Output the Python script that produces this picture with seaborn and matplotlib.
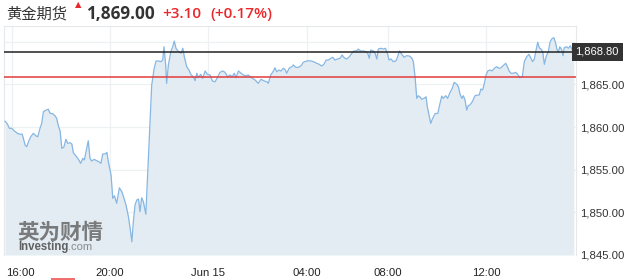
import matplotlib
matplotlib.use("Agg")
import matplotlib.pyplot as plt
import matplotlib.transforms as mtransforms
from matplotlib.patches import Rectangle
import seaborn as sns
import pandas as pd

# ---- data (hours after 16:00 on the chart's session scale, price) ----
hours = [-0.29, -0.19, -0.11, -0.01, 0.08, 0.22, 0.33, 0.41, 0.46, 0.53, 0.60, 0.67, 0.76, 0.87, 0.98, 1.05,
         1.14, 1.21, 1.28, 1.39, 1.48, 1.55, 1.66, 1.76, 1.82, 1.89, 1.96, 2.03, 2.11, 2.20, 2.27, 2.37,
         2.44, 2.50, 2.61, 2.71, 2.80, 2.89, 2.95, 3.02, 3.11, 3.18, 3.25, 3.35, 3.46, 3.56, 3.63, 3.70,
         3.80, 3.87, 3.93, 4.00, 4.04, 4.11, 4.18, 4.27, 4.38, 4.48, 4.57, 4.65, 4.75, 4.82, 4.89, 4.95,
         5.02, 5.09, 5.16, 5.22, 5.29, 5.36, 5.46, 5.52, 5.60, 5.70, 5.80, 5.88, 5.97, 6.08, 6.15, 6.20,
         6.27, 6.31, 6.38, 6.48, 6.56, 6.62, 6.69, 6.79, 6.90, 6.97, 7.03, 7.13, 7.22, 7.31, 7.40, 7.47,
         7.54, 7.60, 7.70, 7.78, 7.88, 7.97, 8.08, 8.18, 8.29, 8.40, 8.49, 8.60, 8.69, 8.80, 8.90, 8.99,
         9.07, 9.14, 9.24, 9.35, 9.44, 9.55, 9.64, 9.78, 9.92, 10.05, 10.16, 10.30, 10.40, 10.46, 10.56,
         10.67, 10.73, 10.80, 10.90, 10.98, 11.07, 11.14, 11.21, 11.31, 11.42, 11.48, 11.58, 11.69, 11.80,
         11.89, 12.03, 12.16, 12.30, 12.44, 12.54, 12.64, 12.73, 12.82, 12.91, 13.01, 13.09, 13.18, 13.28,
         13.39, 13.47, 13.56, 13.66, 13.77, 13.87, 13.96, 14.07, 14.13, 14.23, 14.34, 14.45, 14.52, 14.58,
         14.64, 14.75, 14.82, 14.89, 14.95, 15.05, 15.16, 15.24, 15.32, 15.39, 15.47, 15.56, 15.67, 15.74,
         15.81, 15.91, 16.00, 16.11, 16.22, 16.31, 16.38, 16.45, 16.52, 16.58, 16.65, 16.73, 16.82, 16.90,
         16.95, 17.03, 17.09, 17.17, 17.27, 17.38, 17.47, 17.54, 17.60, 17.70, 17.78, 17.88, 17.97, 18.05,
         18.15, 18.22, 18.29, 18.36, 18.42, 18.49, 18.56, 18.62, 18.69, 18.79, 18.90, 19.01, 19.07, 19.14,
         19.21, 19.28, 19.35, 19.42, 19.51, 19.60, 19.69, 19.78, 19.88, 19.96, 20.05, 20.15, 20.22, 20.29,
         20.37, 20.46, 20.56, 20.64, 20.73, 20.83, 20.91, 21.01, 21.10, 21.18, 21.25, 21.32, 21.39, 21.46,
         21.52, 21.59, 21.66, 21.73, 21.80, 21.89, 21.96, 22.03, 22.12, 22.19, 22.24, 22.30, 22.36, 22.44,
         22.49, 22.54, 22.64, 22.71, 22.79, 22.87, 22.93]
price = [1860.70, 1860.35, 1859.85, 1859.85, 1859.57, 1859.26, 1859.14, 1859.18, 1858.68, 1857.89, 1857.69,
         1858.28, 1858.86, 1859.26, 1858.95, 1858.86, 1859.85, 1860.43, 1861.79, 1861.99, 1862.08, 1861.61,
         1861.56, 1861.29, 1861.02, 1860.12, 1859.57, 1857.50, 1857.62, 1858.56, 1858.09, 1858.16, 1858.01,
         1856.99, 1856.60, 1856.21, 1855.74, 1856.33, 1856.13, 1857.10, 1858.39, 1856.33, 1856.01, 1856.21,
         1856.05, 1855.90, 1855.74, 1856.84, 1856.84, 1857.03, 1855.93, 1854.96, 1854.37, 1851.64, 1851.95,
         1851.06, 1852.88, 1852.42, 1851.64, 1850.86, 1849.48, 1848.12, 1846.55, 1848.90, 1850.86, 1851.44,
         1851.56, 1850.07, 1851.71, 1851.24, 1849.77, 1853.59, 1858.68, 1864.92, 1866.88, 1867.74, 1867.74,
         1867.66, 1867.85, 1869.41, 1867.27, 1865.12, 1867.27, 1868.83, 1869.41, 1870.08, 1869.23, 1868.83,
         1868.64, 1869.23, 1868.24, 1867.07, 1866.68, 1866.10, 1865.90, 1865.43, 1866.30, 1865.78, 1866.18,
         1865.71, 1866.57, 1866.18, 1866.10, 1865.39, 1865.31, 1865.90, 1866.41, 1866.57, 1866.41, 1865.90,
         1866.10, 1865.90, 1866.30, 1865.78, 1866.57, 1866.30, 1866.10, 1866.01, 1866.10, 1865.78, 1865.51,
         1865.12, 1865.59, 1865.39, 1865.31, 1865.12, 1866.10, 1866.57, 1866.95, 1866.48, 1866.68, 1866.57,
         1866.88, 1866.76, 1866.30, 1866.88, 1867.07, 1867.27, 1867.00, 1867.00, 1867.19, 1867.59, 1867.74,
         1867.77, 1867.66, 1867.47, 1867.35, 1867.15, 1867.35, 1867.85, 1867.85, 1868.05, 1868.17, 1867.85,
         1867.97, 1868.05, 1868.44, 1868.12, 1867.97, 1868.24, 1868.64, 1868.91, 1868.94, 1869.14, 1868.91,
         1868.91, 1868.83, 1868.64, 1868.05, 1869.03, 1868.91, 1868.64, 1867.97, 1869.14, 1869.23, 1869.14,
         1869.23, 1868.64, 1867.85, 1867.97, 1867.66, 1867.74, 1868.24, 1868.91, 1868.52, 1868.17, 1868.36,
         1868.32, 1868.12, 1867.66, 1865.90, 1863.36, 1863.67, 1863.52, 1863.25, 1863.36, 1863.55, 1862.38,
         1861.29, 1860.43, 1861.02, 1861.58, 1861.60, 1862.78, 1863.63, 1863.36, 1863.67, 1863.36, 1864.07,
         1864.54, 1865.24, 1865.01, 1864.72, 1863.83, 1863.36, 1863.67, 1863.17, 1861.99, 1862.50, 1862.58,
         1862.97, 1863.67, 1863.75, 1863.75, 1864.46, 1864.34, 1865.12, 1866.10, 1866.57, 1866.68, 1866.57,
         1866.88, 1867.07, 1866.88, 1866.95, 1867.19, 1867.47, 1867.07, 1866.57, 1866.30, 1866.30, 1866.41,
         1866.18, 1865.78, 1865.90, 1867.66, 1868.24, 1868.52, 1868.05, 1867.66, 1867.97, 1869.03, 1869.93,
         1869.30, 1869.14, 1868.83, 1867.35, 1868.24, 1868.83, 1869.93, 1870.32, 1870.47, 1869.81, 1869.14,
         1868.76, 1869.41, 1869.03, 1868.36, 1869.30, 1869.41, 1869.23, 1869.53, 1869.03, 1868.80]

tick_pos = [0.0, 4.0, 8.0, 12.04, 15.35, 19.35]
tick_labels = ["16:00", "20:00", "Jun 15", "04:00", "08:00", "12:00"]
y_ticks = [1845, 1850, 1855, 1860, 1865]
grid_y = [1850, 1855, 1860, 1865, 1870]
last_price = 1868.80
prev_close = 1865.90
title_name = "黄金期货"
title_price = "1,869.00"
title_change = "+3.10"
title_pct = "(+0.17%)"

# ---- style ----
sns.set_style("white")
plt.rcParams["font.family"] = ["Liberation Sans", "Noto Sans CJK SC", "DejaVu Sans"]

fig = plt.figure(figsize=(6.24, 2.8), dpi=100)
W, H = 624.0, 280.0
ax = fig.add_axes([4 / W, 1 - 255 / H, (575.5 - 4) / W, (255 - 26) / H])

df = pd.DataFrame({"hours": hours, "price": price})
ymin, ymax = 1845.0, 1871.84
ax.set_xlim(-0.33, 23.0)
ax.set_ylim(ymin, ymax)

grid_c = "#eef1f4"
for gy in grid_y:
    ax.axhline(gy, color=grid_c, lw=0.9, zorder=0)
for gx in tick_pos:
    ax.axvline(gx, color=grid_c, lw=0.9, zorder=0)

ax.fill_between(df["hours"], df["price"], ymin, color="#e3ecf3", lw=0, zorder=1)
sns.lineplot(data=df, x="hours", y="price", ax=ax, color="#86b6e2", lw=0.9, zorder=3)

ax.axhline(last_price, color="#222222", lw=1.1, zorder=4)
ax.axhline(prev_close, color="#e03c3c", lw=1.1, zorder=4)

for side in ["top", "left", "right"]:
    ax.spines[side].set_color("#e6e9ec")
    ax.spines[side].set_linewidth(0.8)
ax.spines["bottom"].set_visible(False)

ax.yaxis.tick_right()
ax.set_yticks(y_ticks)
ax.set_yticklabels([f"{v:,.2f}" for v in y_ticks])
ax.set_xticks(tick_pos)
ax.set_xticklabels(tick_labels)
ax.tick_params(axis="y", length=0, pad=3, labelsize=8.2, labelcolor="#333333")
ax.tick_params(axis="x", length=0, pad=9.5, labelsize=8.2, labelcolor="#222222")
ax.set_xlabel("")
ax.set_ylabel("")
first = ax.get_xticklabels()[0]
first.set_horizontalalignment("left")
first.set_transform(first.get_transform() + mtransforms.ScaledTranslation(-6 / 100, 0, fig.dpi_scale_trans))

# last price box
trans = mtransforms.blended_transform_factory(ax.transAxes, ax.transData)
ax.text(1.0, last_price, f"{last_price:,.2f}", transform=trans, ha="left", va="center",
        fontsize=8, color="white", clip_on=False, zorder=6,
        bbox=dict(boxstyle="square,pad=0.33", fc="#333333", ec="none"))

# header
fig.text(6 / W, 1 - 14 / H, title_name, fontsize=11, color="#333333",
         family=["Noto Sans CJK SC"], va="center", ha="left")
fig.text(78 / W, 1 - 5 / H, "▲", fontsize=6, color="#e8282b", family=["DejaVu Sans"],
         va="center", ha="center")
fig.text(86 / W, 1 - 14 / H, title_price, fontsize=12.3, color="#333333", weight="bold",
         family=["Open Sans"], va="center", ha="left")
fig.text(162 / W, 1 - 14 / H, title_change, fontsize=11, color="#e8282b", weight="semibold",
         family=["Open Sans"], va="center", ha="left")
fig.text(210 / W, 1 - 14 / H, title_pct, fontsize=11, color="#e8282b", weight="semibold",
         family=["Open Sans"], va="center", ha="left")

# watermark
fig.text(17 / W, 1 - 232 / H, "英为财情", fontsize=15.5, color="#6e6e6e", weight="bold",
         family=["Noto Sans CJK SC"], va="center", ha="left", alpha=0.9)
t1 = fig.text(18 / W, 1 - 247 / H, "Investing", fontsize=8.3, color="#606060", weight="bold",
              va="center", ha="left")
fig.canvas.draw()
bb = t1.get_window_extent()
fig.text(bb.x1 / W, 1 - 247 / H, ".com", fontsize=8, color="#8a8a8a", va="center", ha="left")

# small red tab at the bottom edge
fig.add_artist(Rectangle((51 / W, 0), 24 / W, 2 / H, transform=fig.transFigure,
                         color="#f07070", lw=0))

fig.savefig("out.png", dpi=100)
